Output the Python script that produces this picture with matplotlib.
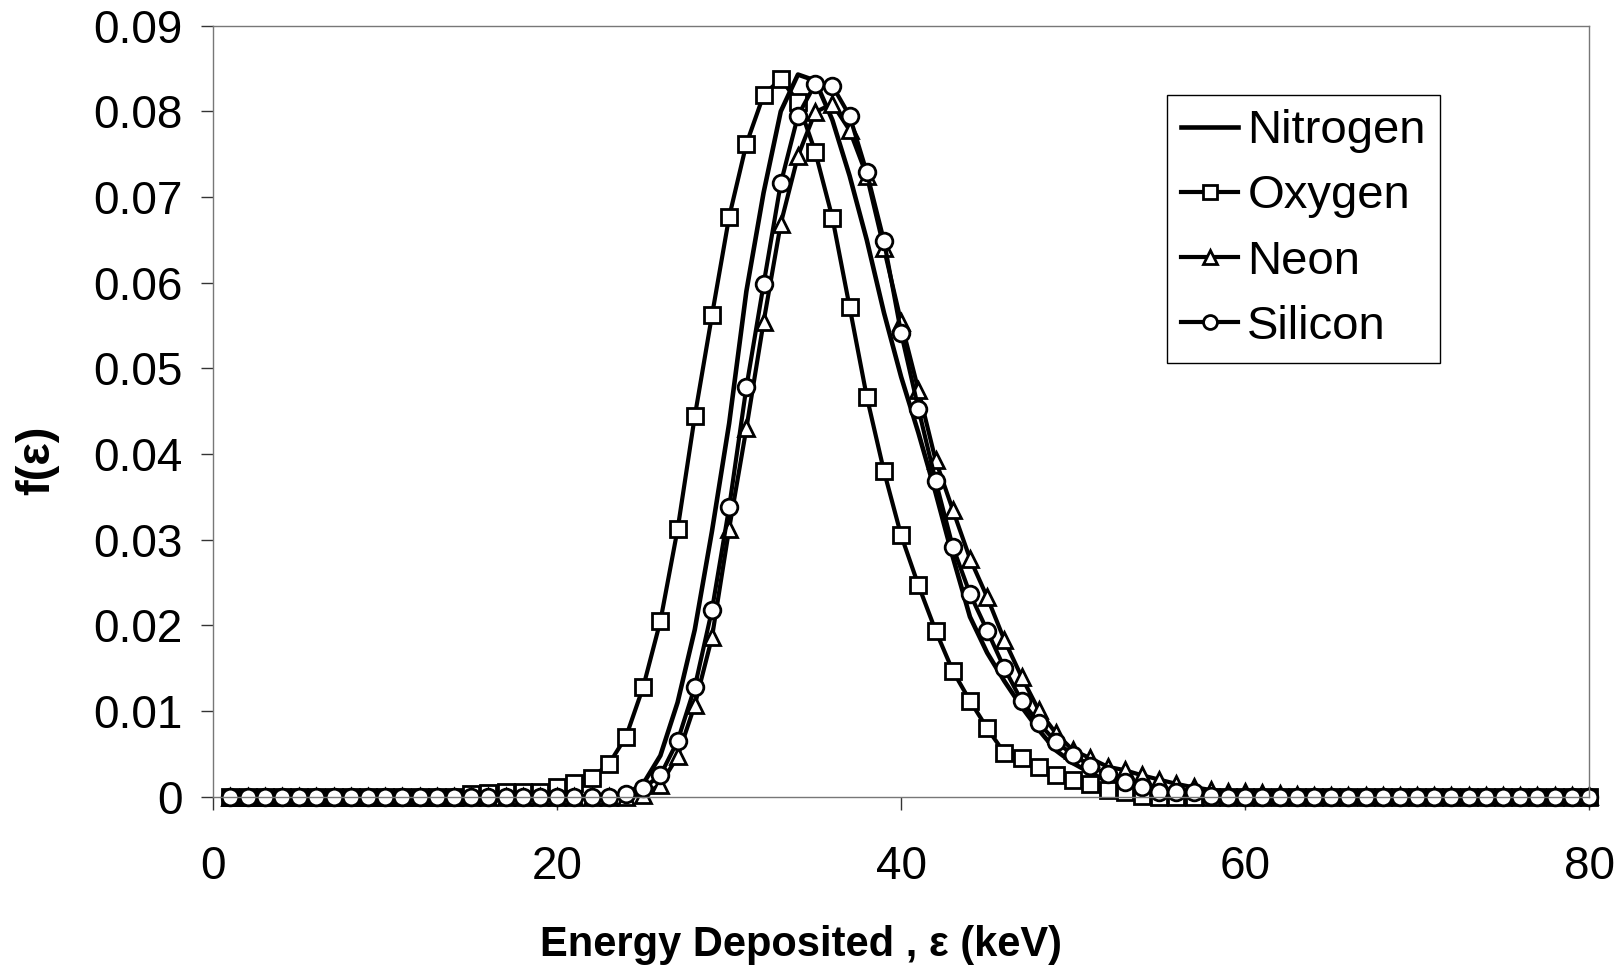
import numpy as np
import matplotlib
matplotlib.use("Agg")
import matplotlib.pyplot as plt

plt.rcParams['font.family'] = ['Liberation Sans', 'DejaVu Sans']

# energy deposited, keV (one point per keV)
energy = np.arange(1, 81)

# f(eps), x = 1..80
nitrogen = [0]*23 + [
    0.0003, 0.0015, 0.0048, 0.0110, 0.0195, 0.0310, 0.0436, 0.0590, 0.0705, 0.0800,   # 24-33
    0.0843, 0.0836, 0.0790, 0.0725, 0.0650, 0.0565, 0.0490, 0.0425, 0.0355, 0.0280,   # 34-43
    0.0210, 0.0168, 0.0135, 0.0105, 0.0078, 0.0054, 0.0039, 0.0028, 0.0018, 0.0011,   # 44-53
    0.0007, 0.0004, 0.0002] + [0]*24

oxygen = [0]*14 + [
    0.0003, 0.0004, 0.0005, 0.0005, 0.0006, 0.0011, 0.0016, 0.0022, 0.0038,           # 15-23
    0.0070, 0.0128, 0.0205, 0.0312, 0.0444, 0.0562, 0.0677, 0.0762, 0.0819, 0.0838,   # 24-33
    0.0811, 0.0753, 0.0676, 0.0572, 0.0467, 0.0380, 0.0305, 0.0247, 0.0194, 0.0147,   # 34-43
    0.0112, 0.0080, 0.0051, 0.0045, 0.0035, 0.0025, 0.0019, 0.0015, 0.0008, 0.0006,   # 44-53
    0.0001] + [0]*26

neon = [0]*24 + [
    0.0002, 0.0014, 0.0047, 0.0107, 0.0186, 0.0313, 0.0430, 0.0554, 0.0669,           # 25-33
    0.0748, 0.0799, 0.0809, 0.0778, 0.0725, 0.0640, 0.0554, 0.0475, 0.0393, 0.0335,   # 34-43
    0.0278, 0.0233, 0.0183, 0.0140, 0.0101, 0.0074, 0.0054, 0.0045, 0.0035, 0.0031,   # 44-53
    0.0025, 0.0020, 0.0015, 0.0011, 0.0008, 0.0006, 0.0005, 0.0004, 0.0003, 0.0002,   # 54-63
    ] + [0.0001]*17

silicon = [0]*23 + [
    0.0003, 0.0010, 0.0025, 0.0065, 0.0128, 0.0218, 0.0338, 0.0478, 0.0598, 0.0716,   # 24-33
    0.0795, 0.0832, 0.0830, 0.0795, 0.0729, 0.0649, 0.0541, 0.0453, 0.0369, 0.0292,   # 34-43
    0.0237, 0.0194, 0.0150, 0.0112, 0.0086, 0.0064, 0.0049, 0.0036, 0.0026, 0.0017,   # 44-53
    0.0011, 0.0005, 0.0005, 0.0005, 0.0001] + [0]*22

x_ticks = [0, 20, 40, 60, 80]
y_ticks = [0, 0.01, 0.02, 0.03, 0.04, 0.05, 0.06, 0.07, 0.08, 0.09]
y_tick_labels = ['0', '0.01', '0.02', '0.03', '0.04', '0.05', '0.06', '0.07', '0.08', '0.09']

fig = plt.figure(figsize=(16.24, 9.67), dpi=100)
ax = fig.add_axes([0.1313, 0.1761, 0.9785-0.1313, 0.9734-0.1761])

lw = 3.0
mk = dict(markersize=12, markerfacecolor='white', markeredgecolor='black',
          markeredgewidth=2.0, clip_on=False)
ax.plot(energy, nitrogen, '-', color='black', lw=lw+0.3, label='Nitrogen', clip_on=False)
ax.plot(energy, oxygen, '-', marker='s', color='black', lw=lw, label='Oxygen', **mk)
ax.plot(energy, neon, '-', marker='^', color='black', lw=lw, label='Neon', **mk)
ax.plot(energy, silicon, '-', marker='o', color='black', lw=lw, label='Silicon', **mk)

ax.set_xlim(0, 80)
ax.set_ylim(0, 0.09)
ax.set_xticks(x_ticks)
ax.set_yticks(y_ticks)
ax.set_yticklabels(y_tick_labels)
ax.tick_params(axis='both', direction='out', length=9, width=1, labelsize=33, color='#333333')
ax.tick_params(axis='x', pad=26)
ax.tick_params(axis='y', pad=13)

for s in ax.spines.values():
    s.set_color('#777777')
    s.set_linewidth(1)

fig.text(0.493, 0.0232, 'Energy Deposited , ε (keV)', fontsize=30, fontweight='bold',
         ha='center', va='center')
fig.text(0.0229, 0.5243, 'f(ε)', fontsize=34, fontweight='bold', rotation=90,
         ha='center', va='center')

leg = ax.legend(loc='upper left', bbox_to_anchor=(0.7186, 0.9018),
                bbox_transform=fig.transFigure, fontsize=34, frameon=True,
                fancybox=False, edgecolor='black', framealpha=1,
                handlelength=1.2, handletextpad=0.2, labelspacing=0.45,
                borderpad=0.3, borderaxespad=0)
leg.get_frame().set_linewidth(1)
for h in leg.legend_handles:
    h.set_markersize(10)

fig.savefig('out.png', dpi=100)
